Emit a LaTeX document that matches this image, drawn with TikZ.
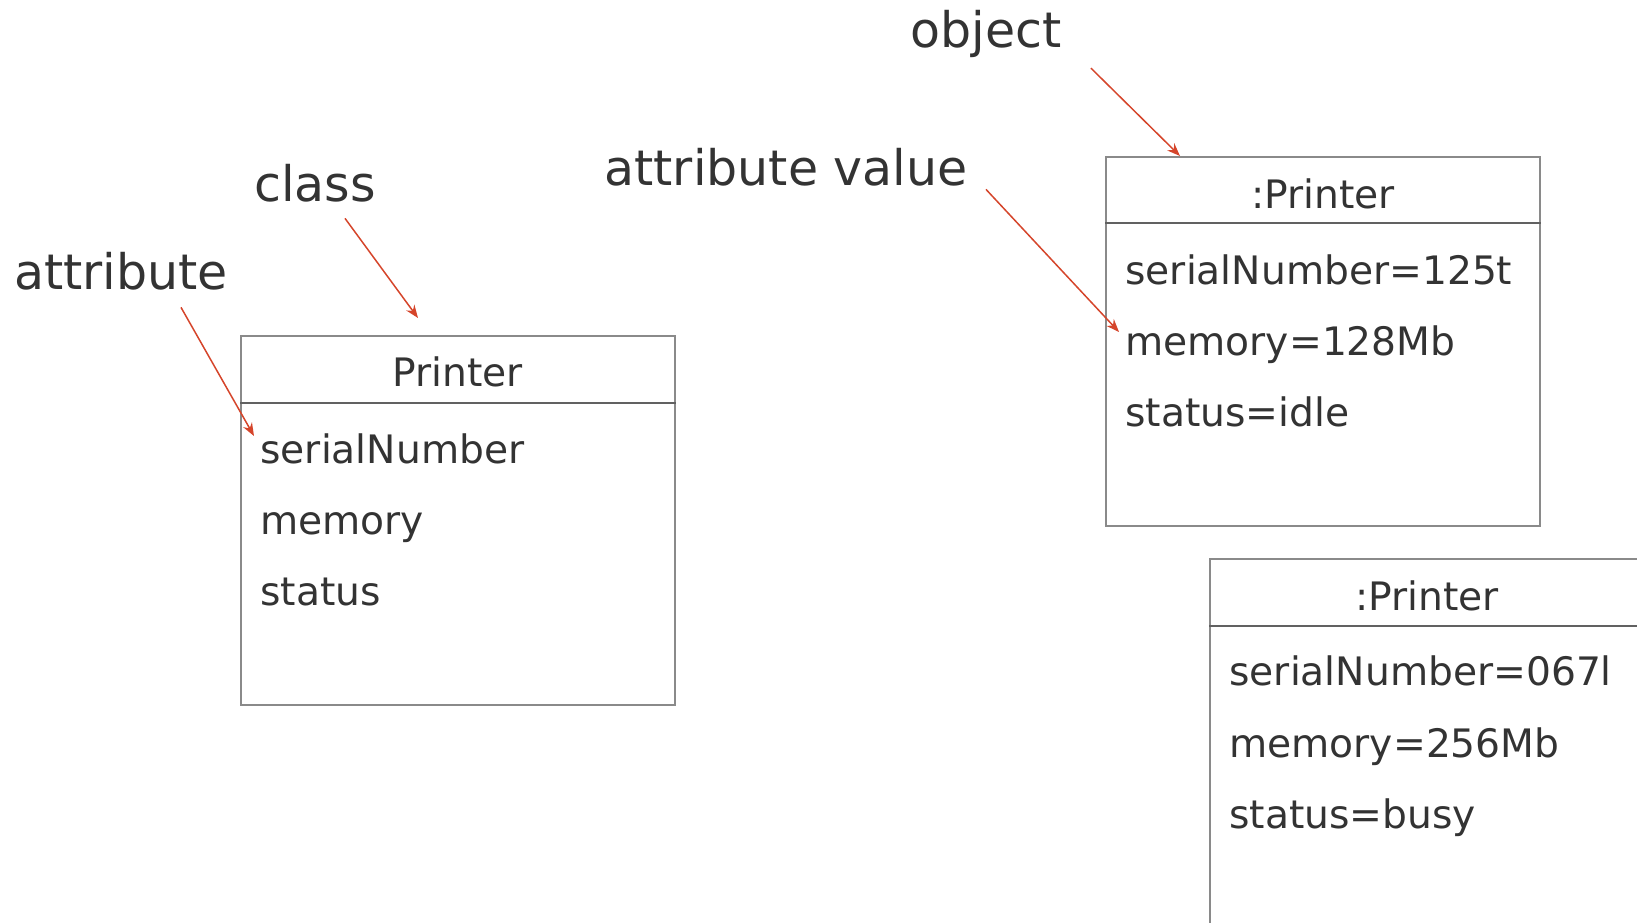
\documentclass[tikz,border=0pt]{standalone}
\usepackage{fontspec}
\setmainfont{DejaVu Sans}
\usetikzlibrary{arrows.meta, positioning, calc}
\definecolor{inkgray}{HTML}{333333}
\definecolor{pointred}{HTML}{D5452B}
\definecolor{framegray}{HTML}{8A8A8A}

\begin{document}
\begin{tikzpicture}[
    x=0.5pt, y=-0.5pt,
    >=Stealth,
    umlbox/.style={rectangle, draw=framegray, line width=0.8pt, anchor=north west, minimum width=217pt, minimum height=184.5pt, inner sep=0pt},
    divider/.style={draw=framegray!70!black, line width=0.8pt},
    headtext/.style={font=\fontsize{19.6pt}{22pt}\selectfont, text=inkgray, inner sep=0pt},
    attrtext/.style={font=\fontsize{19.6pt}{22pt}\selectfont, text=inkgray, anchor=base west, inner sep=0pt},
    notetext/.style={font=\fontsize{24.5pt}{28pt}\selectfont, text=inkgray, inner sep=0pt},
    pointer/.style={draw=pointred, line width=0.75pt, -{Stealth[length=6.5pt, width=5pt]}}
]
\clip (0,0) rectangle (1637,922);

% Class
\node[umlbox] (cls) at (240,335) {};
\draw[divider] ([yshift=-34pt]cls.north west) -- ([yshift=-34pt]cls.north east);
\node[headtext] (clsname) at ([yshift=-18.5pt]cls.north) {Printer};
\node[attrtext] (c1) at ([shift={(20,128)}]cls.north west) {serialNumber};
\node[attrtext] (c2) at ([shift={(20,199)}]cls.north west) {memory};
\node[attrtext] (c3) at ([shift={(20,270)}]cls.north west) {status};

% Object 1
\node[umlbox] (obj1) at (1105,156) {};
\draw[divider] ([yshift=-33.5pt]obj1.north west) -- ([yshift=-33.5pt]obj1.north east);
\node[headtext] (obj1name) at ([yshift=-19pt]obj1.north) {:Printer};
\node[attrtext] (o1) at ([shift={(20,128)}]obj1.north west) {serialNumber=125t};
\node[attrtext] (o2) at ([shift={(20,199)}]obj1.north west) {memory=128Mb};
\node[attrtext] (o3) at ([shift={(20,270)}]obj1.north west) {status=idle};

% Object 2
\node[umlbox] (obj2) at (1209,558) {};
\draw[divider] ([yshift=-34pt]obj2.north west) -- ([yshift=-34pt]obj2.north east);
\node[headtext] (obj2name) at ([yshift=-19pt]obj2.north) {:Printer};
\node[attrtext] (p1) at ([shift={(20,127)}]obj2.north west) {serialNumber=067l};
\node[attrtext] (p2) at ([shift={(20,199)}]obj2.north west) {memory=256Mb};
\node[attrtext] (p3) at ([shift={(20,270)}]obj2.north west) {status=busy};

% Labels
\node[notetext] (lblattr) at (121,271) {attribute};
\node[notetext] (lblclass) at (315,183) {class};
\node[notetext] (lblvalue) at (786,167) {attribute value};
\node[notetext] (lblobject) at (986,34) {object};

% Pointers
\draw[pointer] ([shift={(60,17)}]lblattr.south) -- ([shift={(-6,-27)}]c1.base west);
\draw[pointer] ([shift={(30,16)}]lblclass.south) -- ([shift={(178,-17)}]cls.north west);
\draw[pointer] ([shift={(18,3)}]lblvalue.south east) -- ([shift={(-6,-23)}]o2.base west);
\draw[pointer] ([shift={(29,10)}]lblobject.south east) -- ([shift={(75,0)}]obj1.north west);

\end{tikzpicture}
\end{document}
